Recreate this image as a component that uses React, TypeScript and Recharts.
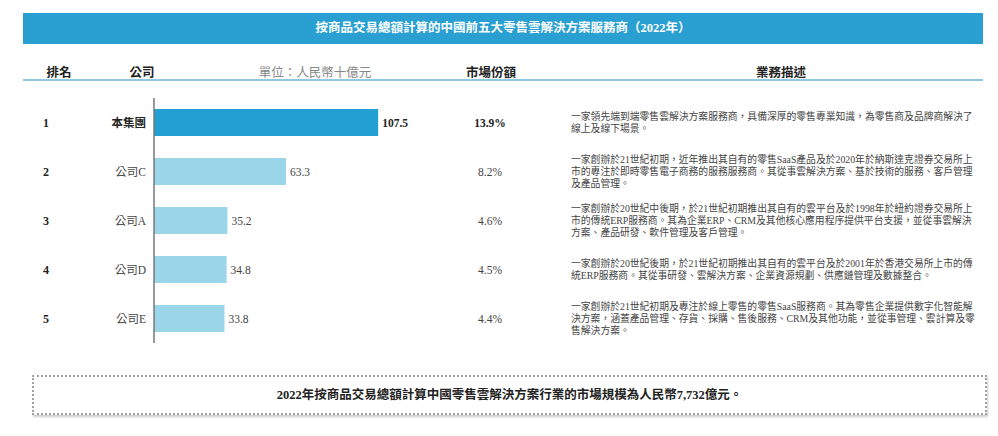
import { Bar, BarChart, Cell, LabelList, XAxis, YAxis } from 'recharts';

const FONT = "'Liberation Serif', 'Noto Sans CJK TC', serif";

const companies = ['本集團', '公司C', '公司A', '公司D', '公司E'];
const gmv = [107.5, 63.3, 35.2, 34.8, 33.8];
const shares = ['13.9%', '8.2%', '4.6%', '4.5%', '4.4%'];
const descriptions = [
  ['一家領先端到端零售雲解決方案服務商，具備深厚的零售專業知識，為零售商及品牌商解決了', '線上及線下場景。'],
  [
    '一家創辦於21世紀初期，近年推出其自有的零售SaaS產品及於2020年於納斯達克證券交易所上',
    '市的專注於即時零售電子商務的服務服務商。其從事雲解決方案、基於技術的服務、客戶管理',
    '及產品管理。',
  ],
  [
    '一家創辦於20世紀中後期，於21世紀初期推出其自有的雲平台及於1998年於紐約證券交易所上',
    '市的傳統ERP服務商。其為企業ERP、CRM及其他核心應用程序提供平台支援，並從事雲解決',
    '方案、產品研發、軟件管理及客戶管理。',
  ],
  [
    '一家創辦於20世紀後期，於21世紀初期推出其自有的雲平台及於2001年於香港交易所上市的傳',
    '統ERP服務商。其從事研發、雲解決方案、企業資源規劃、供應鏈管理及數據整合。',
  ],
  [
    '一家創辦於21世紀初期及專注於線上零售的零售SaaS服務商。其為零售企業提供數字化智能解',
    '決方案，涵蓋產品管理、存貨、採購、售後服務、CRM及其他功能，並從事管理、雲計算及零',
    '售解決方案。',
  ],
];

const data = companies.map((name, i) => ({ name, value: gmv[i] }));

const DARK = '#23a0d1';
const LIGHT = '#9ad5e9';

function RowTick(props: any) {
  const { y, payload } = props;
  const i = payload.index;
  const lines = descriptions[i];
  const first = i === 0;
  const start = y - ((lines.length - 1) * 12) / 2;
  return (
    <g fontFamily={FONT}>
      <text x={46} y={y} textAnchor="middle" dominantBaseline="central" fontSize={12} fontWeight="bold" fill="#222">
        {i + 1}
      </text>
      <text
        x={146}
        y={y}
        textAnchor="end"
        dominantBaseline="central"
        fontSize={11.5}
        fontWeight={first ? 'bold' : 'normal'}
        fill={first ? '#222' : '#444'}
      >
        {payload.value}
      </text>
      <text
        x={490}
        y={y}
        textAnchor="middle"
        dominantBaseline="central"
        fontSize={11.5}
        fontWeight={first ? 'bold' : 'normal'}
        fill={first ? '#222' : '#444'}
      >
        {shares[i]}
      </text>
      {lines.map((line, k) => (
        <text key={k} x={571} y={start + k * 12} dominantBaseline="central" fontSize={9.8} fill="#444">
          {line}
        </text>
      ))}
    </g>
  );
}

function ValueLabel(props: any) {
  const { x, y, width, height, value, index } = props;
  return (
    <text
      x={x + width + 4}
      y={y + height / 2}
      dominantBaseline="central"
      fontFamily={FONT}
      fontSize={11.5}
      fontWeight={index === 0 ? 'bold' : 'normal'}
      fill={index === 0 ? '#222' : '#444'}
    >
      {value}
    </text>
  );
}

const head: React.CSSProperties = {
  position: 'absolute',
  top: 62,
  fontSize: 12.5,
  fontWeight: 'bold',
  color: '#222',
  transform: 'translateX(-50%)',
  whiteSpace: 'nowrap',
};

export default function App() {
  return (
    <div style={{ position: 'absolute', left: 0, top: 0, width: 998, height: 436, background: '#fff', fontFamily: FONT }}>
      <div
        style={{
          position: 'absolute',
          left: 23,
          top: 13,
          width: 960,
          height: 31,
          background: '#2a9fd2',
          color: '#fff',
          fontSize: 12.5,
          fontWeight: 'bold',
          lineHeight: '31px',
          textAlign: 'center',
        }}
      >
        按商品交易總額計算的中國前五大零售雲解決方案服務商（2022年）
      </div>
      <div style={{ ...head, left: 59 }}>排名</div>
      <div style={{ ...head, left: 142 }}>公司</div>
      <div style={{ ...head, left: 315, fontWeight: 'normal', color: '#888' }}>單位：人民幣十億元</div>
      <div style={{ ...head, left: 491 }}>市場份額</div>
      <div style={{ ...head, left: 781 }}>業務描述</div>
      <div style={{ position: 'absolute', left: 23, top: 79, width: 960, height: 2, background: '#8ecbe3' }} />

      <div style={{ position: 'absolute', left: 0, top: 0 }}>
        <BarChart width={998} height={436} data={data} layout="vertical" margin={{ top: 98, right: 10, bottom: 93, left: 0 }}>
          <XAxis type="number" domain={[0, 400]} hide />
          <YAxis
            type="category"
            dataKey="name"
            width={154}
            tickLine={false}
            axisLine={{ stroke: '#777', strokeWidth: 1.5 }}
            tick={<RowTick />}
            interval={0}
          />
          <Bar dataKey="value" barSize={27} isAnimationActive={false}>
            {data.map((d, i) => (
              <Cell key={d.name} fill={i === 0 ? DARK : LIGHT} />
            ))}
            <LabelList dataKey="value" content={<ValueLabel />} />
          </Bar>
        </BarChart>
      </div>

      <div
        style={{
          position: 'absolute',
          left: 32,
          top: 375,
          width: 951,
          height: 36,
          border: '2px dotted #a0a0a0',
          boxShadow: '1px 2px 2px rgba(0,0,0,0.2)',
          fontSize: 12.5,
          fontWeight: 'bold',
          color: '#222',
          lineHeight: '36px',
          textAlign: 'center',
        }}
      >
        2022年按商品交易總額計算中國零售雲解決方案行業的市場規模為人民幣7,732億元。
      </div>
    </div>
  );
}
